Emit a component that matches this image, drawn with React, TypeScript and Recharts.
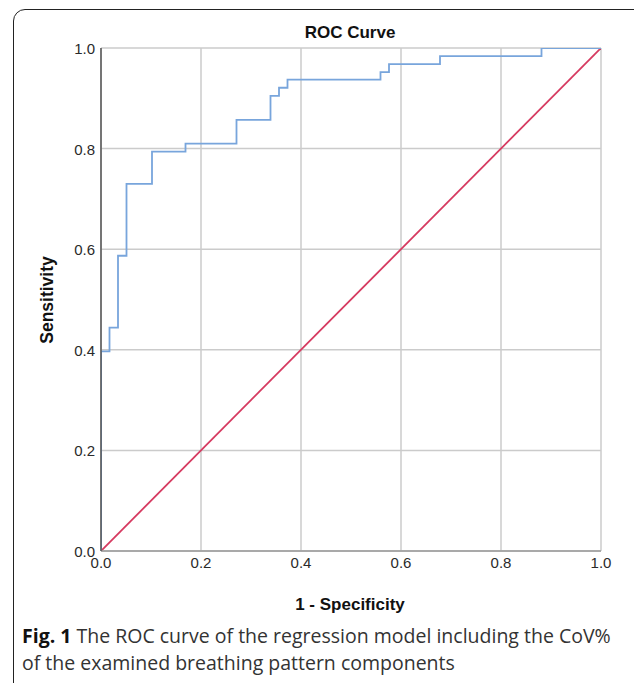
import React from 'react';
import { LineChart, Line, XAxis, YAxis, CartesianGrid } from 'recharts';

// ROC curve corner points (1 - specificity, sensitivity)
const rocFpr = [0, 0, 0.017, 0.034, 0.051, 0.102, 0.169, 0.271, 0.339, 0.356, 0.373, 0.559, 0.576, 0.678, 0.881, 1.0];
const rocTpr = [0, 0.397, 0.444, 0.587, 0.730, 0.794, 0.810, 0.857, 0.905, 0.921, 0.937, 0.952, 0.968, 0.984, 1.0, 1.0];
// Reference (chance) line
const refX = [0, 1];
const refY = [0, 1];
const ticks = [0, 0.2, 0.4, 0.6, 0.8, 1.0];

const rocData = rocFpr.map((x, i) => ({ x, y: rocTpr[i] }));
const refData = refX.map((x, i) => ({ x, y: refY[i] }));

const boldLabel = { fontFamily: 'Liberation Sans, Arial, sans-serif', fontWeight: 'bold' as const, fontSize: 17, color: '#111' };

const XTick = (props: any) => {
  const { x, y, payload } = props;
  return (
    <text x={x} y={y + 15} textAnchor="middle" fontFamily="Liberation Sans, Arial, sans-serif" fontSize={15} fill="#2a2a2a">
      {Number(payload.value).toFixed(1)}
    </text>
  );
};

const YTick = (props: any) => {
  const { x, y, payload } = props;
  return (
    <text x={x - 4} y={y + 6} textAnchor="end" fontFamily="Liberation Sans, Arial, sans-serif" fontSize={15} fill="#2a2a2a">
      {Number(payload.value).toFixed(1)}
    </text>
  );
};

const captionStyle = { position: 'absolute' as const, left: 22, fontFamily: 'Open Sans, sans-serif', fontSize: 19.5, lineHeight: '27px', color: '#333', whiteSpace: 'nowrap' as const };

export default function App() {
  return (
    <div style={{ position: 'absolute', left: 0, top: 0, width: 634, height: 683, background: '#fff', overflow: 'hidden' }}>
      <div style={{ position: 'absolute', left: 13, top: 9, width: 640, height: 700, border: '1.5px solid #222', borderRadius: 12, boxSizing: 'border-box' }} />
      <div style={{ ...boldLabel, position: 'absolute', left: 0, width: 700, top: 23, textAlign: 'center' }}>
        ROC Curve
      </div>
      <div style={{ position: 'absolute', left: 0, top: 0 }}>
        <LineChart width={634} height={620} margin={{ top: 48, right: 33, left: 41, bottom: 39 }}>
          <CartesianGrid stroke="#cbcbcb" strokeWidth={1.5} />
          <XAxis
            type="number"
            dataKey="x"
            domain={[0, 1]}
            ticks={ticks}
            tickLine={false}
            axisLine={{ stroke: '#9a9a9a', strokeWidth: 1.5 }}
            tick={<XTick />}
            tickSize={0}
            height={30}
            allowDataOverflow
          />
          <YAxis
            type="number"
            dataKey="y"
            domain={[0, 1]}
            ticks={ticks}
            tickLine={false}
            axisLine={{ stroke: '#555', strokeWidth: 1.5 }}
            tick={<YTick />}
            tickSize={0}
            width={60}
            allowDataOverflow
          />
          <Line data={refData} dataKey="y" type="linear" stroke="#d63a60" strokeWidth={1.8} dot={false} isAnimationActive={false} />
          <Line data={rocData} dataKey="y" type="stepAfter" stroke="#78a5dc" strokeWidth={1.8} dot={false} isAnimationActive={false} />
        </LineChart>
      </div>
      <div style={{ ...boldLabel, position: 'absolute', left: 0, width: 700, top: 595, textAlign: 'center' }}>
        1 - Specificity
      </div>
      <div style={{ ...boldLabel, fontSize: 17.5, position: 'absolute', left: 47, top: 300, transform: 'translate(-50%, -50%) rotate(-90deg)', whiteSpace: 'nowrap' }}>
        Sensitivity
      </div>
      <div style={{ ...captionStyle, top: 622 }}>
        <b style={{ color: '#111' }}>Fig. 1</b>
        <span> The ROC curve of the regression model including the CoV%</span>
      </div>
      <div style={{ ...captionStyle, top: 649 }}>
        of the examined breathing pattern components
      </div>
    </div>
  );
}
